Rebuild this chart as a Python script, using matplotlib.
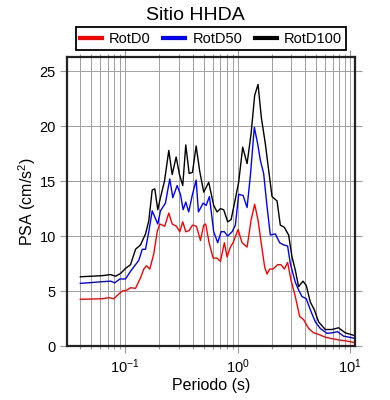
import matplotlib
matplotlib.use('Agg')
import matplotlib.pyplot as plt
from matplotlib.ticker import LogLocator, MultipleLocator

plt.rcParams['font.family'] = ['Liberation Sans', 'DejaVu Sans']
plt.rcParams['mathtext.default'] = 'regular'

# periods (s) and PSA (cm/s2)
t_rotd100 = [0.04, 0.0626, 0.0742, 0.0822, 0.091, 0.1008, 0.1117, 0.1237, 0.137, 0.1518,
             0.1623, 0.174, 0.1835, 0.195, 0.206, 0.2237, 0.2443, 0.2618, 0.284, 0.304,
             0.325, 0.3458, 0.3706, 0.3965, 0.4275, 0.46, 0.4993, 0.553, 0.612, 0.656,
             0.702, 0.751, 0.815, 0.874, 0.954, 1.02, 1.108, 1.212, 1.315, 1.415,
             1.517, 1.622, 1.761, 1.884, 2.02, 2.237, 2.392, 2.596, 2.835, 3.04,
             3.251, 3.477, 3.803, 4.07, 4.418, 4.794, 5.232, 6.0, 6.88, 7.87, 9.03, 11.0]
rotd100 = [6.3, 6.4, 6.5, 6.35, 6.6, 7.06, 7.4, 8.8, 9.2, 10.2,
           11.4, 14.2, 14.3, 12.4, 13.5, 15.0, 17.8, 15.6, 17.2, 15.6,
           14.6, 18.3, 15.7, 15.8, 18.2, 15.9, 14.0, 14.9, 12.8, 12.2,
           12.5, 12.4, 11.3, 11.5, 13.4, 14.9, 18.1, 16.6, 19.3, 22.8,
           23.8, 20.8, 18.4, 16.0, 13.6, 13.2, 11.0, 10.8, 10.1, 8.1,
           6.9, 5.4, 5.9, 5.5, 4.0, 3.3, 2.2, 1.5, 1.5, 1.66, 1.2, 0.94]

t_rotd50 = [0.04, 0.0626, 0.0742, 0.0809, 0.0898, 0.1008, 0.1117, 0.1323, 0.142, 0.1518,
            0.1623, 0.174, 0.195, 0.206, 0.228, 0.2493, 0.2651, 0.2899, 0.31, 0.3277,
            0.3458, 0.3674, 0.3965, 0.4275, 0.448, 0.4932, 0.5245, 0.561, 0.612, 0.6647,
            0.7125, 0.762, 0.815, 0.892, 0.954, 1.02, 1.117, 1.212, 1.296, 1.406,
            1.505, 1.59, 1.701, 1.823, 1.95, 2.161, 2.358, 2.56, 2.778, 2.935,
            3.251, 3.477, 3.727, 4.07, 4.418, 4.892, 5.419, 6.21, 6.88, 7.71, 8.72, 11.0]
rotd50 = [5.7, 5.85, 5.9, 5.75, 6.1, 6.1, 6.8, 7.8, 8.8, 8.8,
          10.4, 12.3, 11.1, 12.3, 13.0, 15.2, 13.5, 14.6, 13.8, 12.4,
          13.1, 12.2, 13.8, 15.1, 12.2, 13.0, 12.8, 13.6, 10.4, 9.4,
          10.4, 10.4, 10.0, 10.4, 11.0, 13.8, 13.7, 12.6, 15.5, 19.9,
          18.4, 16.9, 15.7, 12.7, 10.1, 10.2, 9.4, 9.2, 9.1, 7.5,
          5.8, 5.1, 4.5, 4.3, 3.3, 2.2, 1.6, 1.15, 1.2, 1.3, 0.9, 0.7]

t_rotd0 = [0.04, 0.0626, 0.0717, 0.0794, 0.0851, 0.0942, 0.102, 0.1117, 0.1237, 0.137,
           0.1466, 0.1549, 0.1657, 0.1798, 0.1927, 0.2032, 0.2249, 0.2443, 0.2618, 0.2858,
           0.3058, 0.325, 0.3458, 0.3706, 0.3965, 0.43, 0.4667, 0.4993, 0.52, 0.557,
           0.605, 0.656, 0.702, 0.762, 0.805, 0.861, 0.91, 1.008, 1.094, 1.212,
           1.315, 1.415, 1.517, 1.622, 1.736, 1.823, 1.923, 2.061, 2.265, 2.427,
           2.596, 2.778, 2.978, 3.251, 3.549, 3.851, 4.266, 4.726, 5.232, 6.0,
           6.88, 7.87, 9.03, 11.0]
rotd0 = [4.25, 4.3, 4.4, 4.3, 4.6, 5.0, 5.05, 5.3, 5.25, 6.2,
         7.0, 7.3, 7.0, 8.4, 10.4, 11.1, 10.9, 12.1, 11.1, 10.9,
         10.4, 11.3, 10.4, 10.5, 11.0, 10.9, 9.6, 11.0, 11.1, 9.4,
         8.0, 8.0, 7.7, 9.4, 8.1, 9.0, 9.4, 10.6, 9.4, 9.0,
         11.45, 12.9, 11.45, 9.3, 7.2, 6.55, 7.0, 7.0, 7.4, 7.4,
         7.0, 7.6, 6.0, 4.5, 2.7, 2.4, 1.6, 1.2, 1.06, 0.8,
         0.67, 0.55, 0.48, 0.3]

fig = plt.figure(figsize=(3.9, 4.0), dpi=100)
ax = fig.add_axes([0.172, 0.135, 0.738, 0.7225])

ax.plot(t_rotd0, rotd0, color='#ff0000', lw=1.0, label='RotD0')
ax.plot(t_rotd50, rotd50, color='#0000ff', lw=1.0, label='RotD50')
ax.plot(t_rotd100, rotd100, color='#000000', lw=1.0, label='RotD100')

ax.set_xscale('log')
ax.set_xlim(0.0305, 11.0)
ax.set_ylim(0, 26.3)
ax.yaxis.set_major_locator(MultipleLocator(5))
ax.xaxis.set_minor_locator(LogLocator(base=10, subs=range(2, 10), numticks=20))

ax.grid(True, which='major', color='#a0a0a0', lw=0.7)
ax.grid(True, which='minor', axis='x', color='#a0a0a0', lw=0.7)
ax.set_axisbelow(True)

ax.tick_params(which='both', direction='out', top=True, right=True, color='#999999',
               labelsize=10.5, width=0.8)
ax.tick_params(which='major', length=5)
ax.tick_params(which='minor', length=2.5)
ax.tick_params(axis='x', which='major', pad=3)
ax.tick_params(axis='y', which='major', pad=3)
for s in ax.spines.values():
    s.set_linewidth(1.6)
    s.set_color('#222222')

ax.set_xlabel('Periodo (s)', fontsize=11.5, labelpad=2)
ax.set_ylabel('PSA (cm/s$^2$)', fontsize=11.5, labelpad=1)
fig.text(0.5, 0.962, 'Sitio HHDA', ha='center', va='center', fontsize=14)

leg = ax.legend(loc='lower center', bbox_to_anchor=(0.5, 1.024),
                ncol=3, fancybox=False, framealpha=1, edgecolor='black', fontsize=10.5,
                handlelength=1.5, borderpad=0.3, handletextpad=0.5, columnspacing=0.85,
                borderaxespad=0)
leg.get_frame().set_linewidth(1.3)
for line in leg.get_lines():
    line.set_linewidth(3)

fig.savefig('out.png', dpi=100)
